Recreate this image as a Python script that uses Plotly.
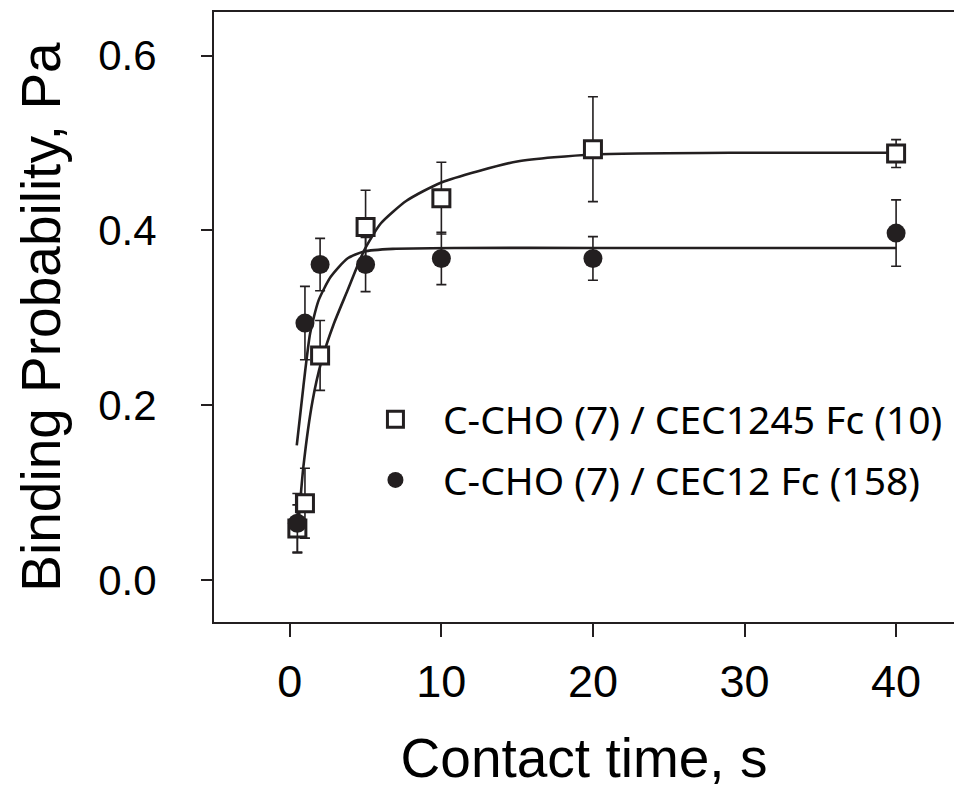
import plotly.graph_objects as go

# ---- data ----
contact_time = [0.5, 1, 2, 5, 10, 20, 40]

cec1245_pa = [0.059, 0.088, 0.257, 0.404, 0.437, 0.493, 0.488]
cec1245_err = [0.027, 0.040, 0.040, 0.042, 0.041, 0.060, 0.016]

cec12_pa = [0.065, 0.294, 0.361, 0.361, 0.368, 0.368, 0.397]
cec12_err = [0.034, 0.042, 0.030, 0.031, 0.030, 0.025, 0.038]

# fitted curves
fit1245_t = [0.5, 0.9, 1.5, 2.1, 2.9, 3.8, 4.9, 6.0, 7.7, 10, 15, 20, 30, 40]
fit1245_pa = [0.050, 0.130, 0.205, 0.251, 0.293, 0.331, 0.377, 0.408, 0.434,
              0.455, 0.479, 0.487, 0.489, 0.489]

fit12_t = [0.46, 0.9, 1.34, 1.9, 2.7, 3.8, 4.9, 6.8, 11, 20, 40]
fit12_pa = [0.154, 0.222, 0.282, 0.320, 0.347, 0.368, 0.376, 0.379, 0.380,
            0.380, 0.380]

series_names = ["C-CHO (7) / CEC1245 Fc (10)", "C-CHO (7) / CEC12 Fc (158)"]

x_ticks = [0, 10, 20, 30, 40]
y_ticks = [0.0, 0.2, 0.4, 0.6]

INK = "#231f20"
AXIS_FONT = "Liberation Sans, Arial, sans-serif"
LEG_FONT = "Noto Sans, Open Sans, sans-serif"

fig = go.Figure()

fig.add_trace(go.Scatter(x=fit1245_t, y=fit1245_pa, mode="lines",
                         line=dict(color=INK, width=2.6, shape="spline", smoothing=0.6),
                         showlegend=False, hoverinfo="skip"))
fig.add_trace(go.Scatter(x=fit12_t, y=fit12_pa, mode="lines",
                         line=dict(color=INK, width=2.6, shape="spline", smoothing=0.6),
                         showlegend=False, hoverinfo="skip"))

fig.add_trace(go.Scatter(
    x=contact_time, y=cec1245_pa, mode="markers", name=series_names[0],
    legendgroup="a",
    marker=dict(symbol="square", size=17, color="white", line=dict(color=INK, width=3)),
    error_y=dict(type="data", array=cec1245_err, color=INK, thickness=1.6, width=5),
))
fig.add_trace(go.Scatter(
    x=contact_time, y=cec12_pa, mode="markers", name=series_names[1],
    legendgroup="b",
    marker=dict(symbol="circle", size=19, color=INK, line=dict(width=0)),
    error_y=dict(type="data", array=cec12_err, color=INK, thickness=1.6, width=5),
))

fig.update_layout(
    width=954, height=790,
    margin=dict(l=214, r=0, t=12, b=168),
    paper_bgcolor="white", plot_bgcolor="white",
    showlegend=True,
    legend=dict(x=0.181, y=0.3846, xanchor="left", yanchor="top",
                bgcolor="rgba(0,0,0,0)", borderwidth=0,
                font=dict(family=LEG_FONT, size=39, color="black"),
                itemwidth=85, traceorder="grouped", tracegroupgap=7),
)

fig.update_xaxes(
    range=[-5, 43.82], tickvals=x_ticks, ticktext=[str(v) for v in x_ticks],
    showgrid=False, zeroline=False, automargin=False,
    showline=True, linecolor=INK, linewidth=2, mirror=True,
    ticks="outside", ticklen=13, tickwidth=2, tickcolor=INK,
    tickfont=dict(family=AXIS_FONT, size=45, color="black"),
    ticklabelstandoff=6,
    title=dict(text="Contact time, s", font=dict(family=AXIS_FONT, size=55, color="black"),
               standoff=32),
)
fig.update_yaxes(
    range=[-0.048, 0.65], tickvals=y_ticks, ticktext=["%.1f" % v for v in y_ticks],
    showgrid=False, zeroline=False, automargin=False,
    showline=True, linecolor=INK, linewidth=2, mirror=False,
    ticks="outside", ticklen=11, tickwidth=2, tickcolor=INK,
    tickfont=dict(family=AXIS_FONT, size=42, color="black"),
    ticklabelstandoff=36,
    title=dict(text="Binding Probability, Pa", font=dict(family=AXIS_FONT, size=55, color="black"),
               standoff=20),
)

fig.write_html("out.html", config={"displayModeBar": False},
               post_script="document.body.style.margin='0';document.body.style.overflow='hidden';")
